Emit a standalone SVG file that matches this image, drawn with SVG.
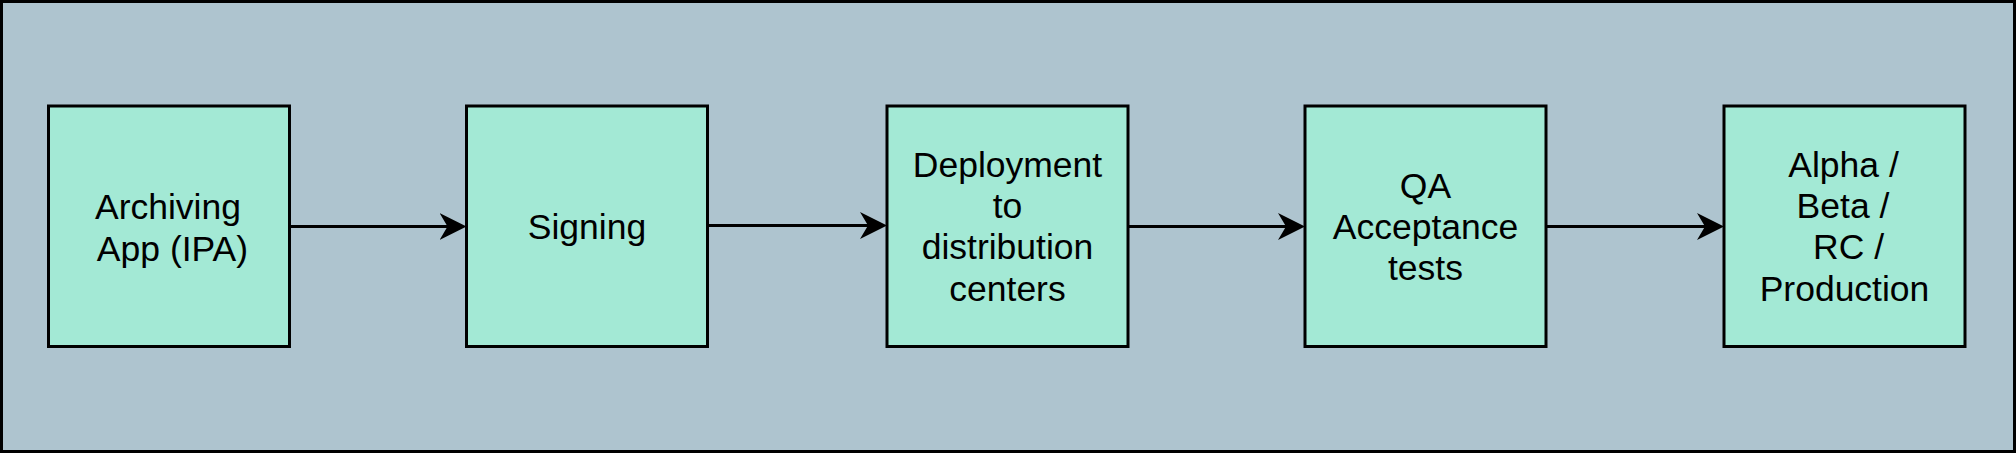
<svg xmlns="http://www.w3.org/2000/svg" width="2016" height="453" viewBox="0 0 2016 453">
<defs>
<style>
.box{fill:#A3E9D5;stroke:#000;stroke-width:3}
.lbl{font-family:"Liberation Sans",Arial,sans-serif;font-size:35.5px;fill:#000;text-anchor:middle}
.edge{stroke:#000;stroke-width:3;fill:none}
</style>
<marker id="arr" markerUnits="userSpaceOnUse" markerWidth="27" markerHeight="28" viewBox="0 0 27 28" refX="19" refY="14" orient="auto">
<path d="M0,0.5 L27,14 L0,27.5 L8,14 Z" fill="#000"/>
</marker>
</defs>
<rect x="1.5" y="1.5" width="2013" height="450" fill="#AEC4CF" stroke="#000" stroke-width="3"/>
<g id="connectors">
<path class="edge" d="M289,226.5 H458.5" marker-end="url(#arr)"/>
<path class="edge" d="M707,225.5 H879" marker-end="url(#arr)"/>
<path class="edge" d="M1128,226.5 H1297" marker-end="url(#arr)"/>
<path class="edge" d="M1545,226.5 H1716" marker-end="url(#arr)"/>
</g>
<g id="n1">
<rect class="box" x="48.5" y="106" width="241" height="240.5"/>
<text class="lbl" x="168" y="219.3">Archiving</text>
<text class="lbl" x="172.5" y="260.6">App (IPA)</text>
</g>
<g id="n2">
<rect class="box" x="466.5" y="106" width="241" height="240.5"/>
<text class="lbl" x="587" y="239.3">Signing</text>
</g>
<g id="n3">
<rect class="box" x="887" y="106" width="241" height="240.5"/>
<text class="lbl" x="1007.5" y="176.8">Deployment</text>
<text class="lbl" x="1007.5" y="218.1">to</text>
<text class="lbl" x="1007.5" y="259.4">distribution</text>
<text class="lbl" x="1007.5" y="300.7">centers</text>
</g>
<g id="n4">
<rect class="box" x="1305" y="106" width="241" height="240.5"/>
<text class="lbl" x="1425.5" y="197.6">QA</text>
<text class="lbl" x="1425.5" y="238.9">Acceptance</text>
<text class="lbl" x="1425.5" y="280.2">tests</text>
</g>
<g id="n5">
<rect class="box" x="1724" y="106" width="241" height="240.5"/>
<text class="lbl" x="1843.5" y="176.8">Alpha /</text>
<text class="lbl" x="1843" y="218.1">Beta /</text>
<text class="lbl" x="1848.5" y="259.4">RC /</text>
<text class="lbl" x="1844.5" y="300.7">Production</text>
</g>
</svg>
